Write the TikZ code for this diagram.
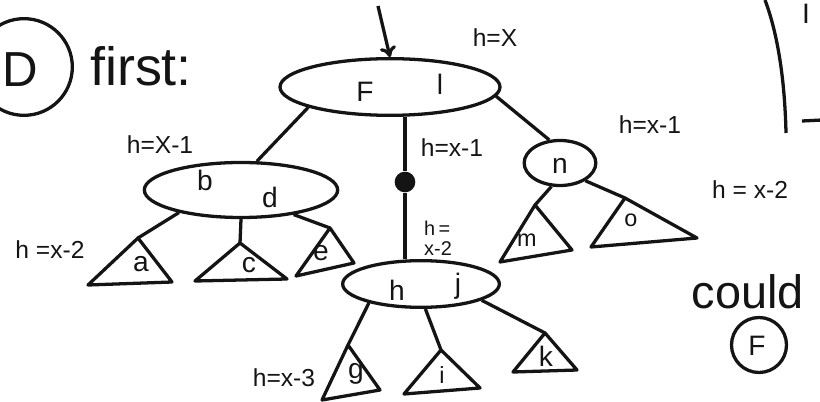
\documentclass[tikz,border=0pt]{standalone}
\usepackage{fontspec}
\setmainfont{Liberation Sans}
\usetikzlibrary{shapes.geometric,arrows.meta}
\definecolor{Ink}{HTML}{141414}

\begin{document}
\begin{tikzpicture}[x=0.03cm,y=-0.03cm,
  ink/.style={draw=Ink,line width=2.8pt},
  keynode/.style={ink,ellipse,inner sep=0pt},
  letter/.style={text=Ink,font=\fontsize{24}{28}\selectfont},
  hlabel/.style={text=Ink,font=\fontsize{21}{25}\selectfont},
  subtree/.style={ink,line join=round}]
\path[use as bounding box] (0,0) rectangle (820,402);

% heading
\node[ink,circle,minimum size=2.9cm] (Dring) at (24,67) {};
\node[letter,font=\fontsize{42}{46}\selectfont] (Dtxt) at (20,70) {D};
\node[letter,anchor=west,font=\fontsize{46}{50}\selectfont] (first) at (86,66) {first:};

% root node
\node[keynode,minimum width=6.6cm,minimum height=1.7cm] (root) at (390,87) {};
\node[letter] (rootF) at (365,92) {F};
\node[letter] (rootl) at (440,84) {l};
\coordinate (entry) at (378,6);
\draw[ink,-{To[length=9pt,width=14pt]}] (entry) -- (root.north);
\node[hlabel] (hroot) at (495,38) {h=X};

% left child
\node[keynode,minimum width=5.8cm,minimum height=1.65cm] (bd) at (241,190) {};
\node[letter] (bdb) at (205,180) {b};
\node[letter] (bdd) at (270,197) {d};
\draw[ink] (root.194) -- (bd.61);
\node[hlabel] (hbd) at (160,145) {h=X-1};

% middle child with black dot
\node[circle,fill=Ink,minimum size=0.62cm,inner sep=0pt] (dot) at (405,182) {};
\node[keynode,minimum width=4.7cm,minimum height=1.4cm] (hj) at (421,284) {};
\node[letter] (hjh) at (397,290) {h};
\node[letter] (hjj) at (458,286) {j};
\draw[ink] (root.south -| dot) -- (dot);
\draw[ink] (dot) -- (hj.north -| dot);
\node[hlabel] (hmid) at (452,148) {h=x-1};
\node[hlabel,font=\fontsize{17}{17}\selectfont,align=left] (hhj) at (438,238) {h\,=\\x-2};

% right child
\node[keynode,minimum width=2.15cm,minimum height=1.35cm] (n) at (560,163) {};
\node[letter] (ntxt) at (560,166) {n};
\draw[ink] (root.-5) -- (n.115);
\node[hlabel] (hn) at (650,125) {h=x-1};
\node[hlabel] (hno) at (750,190) {h = x-2};

% subtrees of bd
\coordinate (ta) at (138,238);
\coordinate (tc) at (240,243);
\coordinate (te) at (330,228);
\draw[subtree] (88,285) -- (172,282) -- (ta) -- cycle;
\draw[subtree] (195,281) -- (287,279) -- (tc) -- cycle;
\draw[subtree] (296,276) -- (354,263) -- (te) -- cycle;
\draw[ink] (bd.200) -- (ta);
\draw[ink] (bd.-90) -- (tc);
\draw[ink] (bd.-25) -- (te);
\node[letter] (la) at (141,264) {a};
\node[letter] (lc) at (249,265) {c};
\node[letter] (le) at (321,253) {e};
\node[hlabel] (hbdsub) at (50,250) {h =x-2};

% subtrees of n
\coordinate (tm) at (535,205);
\coordinate (to) at (625,198);
\draw[subtree] (500,262) -- (572,250) -- (tm) -- cycle;
\draw[subtree] (591,247) -- (697,238) -- (to) -- cycle;
\draw[ink] (n.250) -- (tm);
\draw[ink] (n.-35) -- (to);
\node[letter,font=\fontsize{20}{24}\selectfont] (lm) at (527,240) {m};
\node[letter,font=\fontsize{20}{24}\selectfont] (lo) at (631,220) {o};

% subtrees of hj
\coordinate (tg) at (348,345);
\coordinate (ti) at (441,350);
\coordinate (tk) at (545,333);
\draw[subtree] (322,400) -- (380,390) -- (tg) -- cycle;
\draw[subtree] (404,394) -- (480,388) -- (ti) -- cycle;
\draw[subtree] (513,372) -- (577,370) -- (tk) -- cycle;
\draw[ink] (hj.200) -- (tg);
\draw[ink] (hj.-80) -- (ti);
\draw[ink] (hj.-15) -- (tk);
\node[letter] (lg) at (356,374) {g};
\node[letter,font=\fontsize{20}{24}\selectfont] (li) at (442,375) {i};
\node[letter] (lk) at (546,356) {k};
\node[hlabel] (hg) at (284,378) {h=x-3};

% right margin
\coordinate (barTop) at (765,0);
\coordinate (barBot) at (786,133);
\draw[ink] (barTop) .. controls (780,40) and (785,90) .. (barBot);
\node[letter,anchor=west] (cutI) at (798,14) {I};
\coordinate (dashL) at (802,121);
\coordinate (dashR) at (822,120);
\draw[ink] (dashL) -- (dashR);
\node[letter,font=\fontsize{40}{44}\selectfont] (could) at (748,292) {could};
\node[ink,circle,minimum size=1.65cm] (Fring) at (759,345) {};
\node[letter] (Ftxt) at (757,346) {F};
\end{tikzpicture}
\end{document}
